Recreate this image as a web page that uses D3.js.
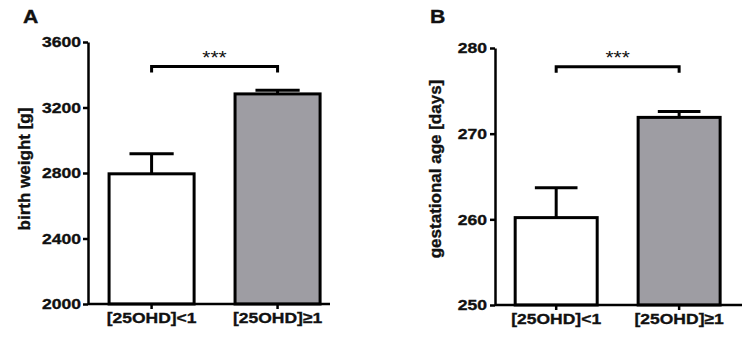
<!DOCTYPE html>
<html>
<head>
<meta charset="utf-8">
<script src="https://cdn.jsdelivr.net/npm/d3@7"></script>
<style>
  body { margin: 0; background: #fff; }
  svg { display: block; font-family: "Liberation Sans", Arial, sans-serif; }
  .axis path, .axis line { stroke: #000; stroke-width: 2.5; }
  .axis text, .lbl { fill: #111; font-weight: bold; stroke: #111; stroke-width: 0.35px; }
</style>
</head>
<body>
<script>
// groups and values
var groups = ["[25OHD]<1", "[25OHD]\u22651"];
var barFills = ["#ffffff", "#9e9da3"];

var birthWeightMean = [2795, 3283];
var birthWeightSem = [122, 22];
var birthWeightTicks = [2000, 2400, 2800, 3200, 3600];

var gestAgeMean = [260.2, 271.9];
var gestAgeSem = [3.5, 0.7];
var gestAgeTicks = [250, 260, 270, 280];

var W = 747, H = 337;

var svg = d3.select("body").append("svg")
  .attr("width", W)
  .attr("height", H);

// the source picture is a little wider than tall, so stretch the text a bit
function stretch(sel, origin, k) {
  sel.style("transform-box", "fill-box")
    .style("transform-origin", origin)
    .style("transform", "scaleX(" + k + ")");
}

function drawPanel(p) {
  var g = svg.append("g");

  var y = d3.scaleLinear().domain(p.domain).range([p.y0, p.y1]);
  var x = d3.scaleBand().domain(groups)
    .range([p.x0, p.x1])
    .paddingInner(p.padIn)
    .paddingOuter(p.padOut)
    .align(p.align);

  // bars
  g.selectAll("rect.bar")
    .data(p.mean)
    .enter().append("rect")
    .attr("class", "bar")
    .attr("x", function(d, i) { return x(groups[i]); })
    .attr("y", function(d) { return y(d); })
    .attr("width", x.bandwidth())
    .attr("height", function(d) { return y(p.domain[0]) - y(d); })
    .attr("fill", function(d, i) { return barFills[i]; })
    .attr("stroke", "#000")
    .attr("stroke-width", 3);

  // error bars (upper only)
  var capW = x.bandwidth() * 0.52;
  p.mean.forEach(function(m, i) {
    var cx = x(groups[i]) + x.bandwidth() / 2;
    g.append("line")
      .attr("x1", cx).attr("x2", cx)
      .attr("y1", y(m)).attr("y2", y(m + p.sem[i]))
      .attr("stroke", "#000").attr("stroke-width", 3);
    g.append("line")
      .attr("x1", cx - capW / 2).attr("x2", cx + capW / 2)
      .attr("y1", y(m + p.sem[i])).attr("y2", y(m + p.sem[i]))
      .attr("stroke", "#000").attr("stroke-width", 3);
  });

  // y axis
  var ya = g.append("g")
    .attr("class", "axis")
    .attr("transform", "translate(" + p.x0 + ",0)")
    .call(d3.axisLeft(y).tickValues(p.ticks).tickFormat(d3.format("d"))
      .tickSize(5).tickSizeOuter(0).tickPadding(p.tickPad));
  ya.attr("font-family", null).attr("font-size", null);
  ya.selectAll("text").style("font-size", "15px");
  stretch(ya.selectAll("text"), "right center", 1.17);

  // x axis
  var xa = g.append("g")
    .attr("class", "axis")
    .attr("transform", "translate(0," + p.y0 + ")")
    .call(d3.axisBottom(x).tickSize(5).tickSizeOuter(0).tickPadding(3));
  xa.attr("font-family", null).attr("font-size", null);
  xa.select(".domain").attr("d", "M" + p.x0 + ",0H" + p.x1);
  xa.selectAll("text").style("font-size", "15.5px");
  stretch(xa.selectAll("text"), "center", 1.13);

  // y label
  g.append("text")
    .attr("class", "lbl")
    .attr("transform", "translate(" + p.labelX + "," + p.labelY + ") rotate(-90)")
    .attr("text-anchor", "middle")
    .style("font-size", "17px")
    .text(p.label);

  // panel letter
  var letter = g.append("text")
    .attr("class", "lbl")
    .attr("x", p.letterX)
    .attr("y", 23)
    .style("font-size", "18px")
    .text(p.letter);
  stretch(letter, "left center", 1.18);

  // significance bracket
  var bx1 = x(groups[0]) + x.bandwidth() / 2;
  var bx2 = x(groups[1]) + x.bandwidth() / 2;
  var by = y(p.bracket);
  g.append("path")
    .attr("d", "M" + bx1 + "," + (by + 6) + "V" + by + "H" + bx2 + "V" + (by + 6))
    .attr("fill", "none")
    .attr("stroke", "#000")
    .attr("stroke-width", 3);
  var stars = g.append("text")
    .attr("x", (bx1 + bx2) / 2)
    .attr("y", by - 3)
    .attr("text-anchor", "middle")
    .style("font-size", "19px")
    .attr("fill", "#111")
    .text("***");
  stretch(stars, "center", 1.1);
}

drawPanel({
  mean: birthWeightMean, sem: birthWeightSem, ticks: birthWeightTicks,
  domain: [2000, 3600], bracket: 3450,
  x0: 88, x1: 330, y0: 304, y1: 42,
  padIn: 0.325, padOut: 0.123, align: 0.68, tickPad: 2,
  label: "birth weight [g]", labelX: 30, labelY: 169,
  letter: "A", letterX: 23
});

drawPanel({
  mean: gestAgeMean, sem: gestAgeSem, ticks: gestAgeTicks,
  domain: [250, 280], bracket: 277.8,
  x0: 495, x1: 742, y0: 305, y1: 48,
  padIn: 0.333, padOut: 0.171, align: 0.48, tickPad: 3,
  label: "gestational age [days]", labelX: 441, labelY: 169,
  letter: "B", letterX: 430
});
</script>
</body>
</html>
